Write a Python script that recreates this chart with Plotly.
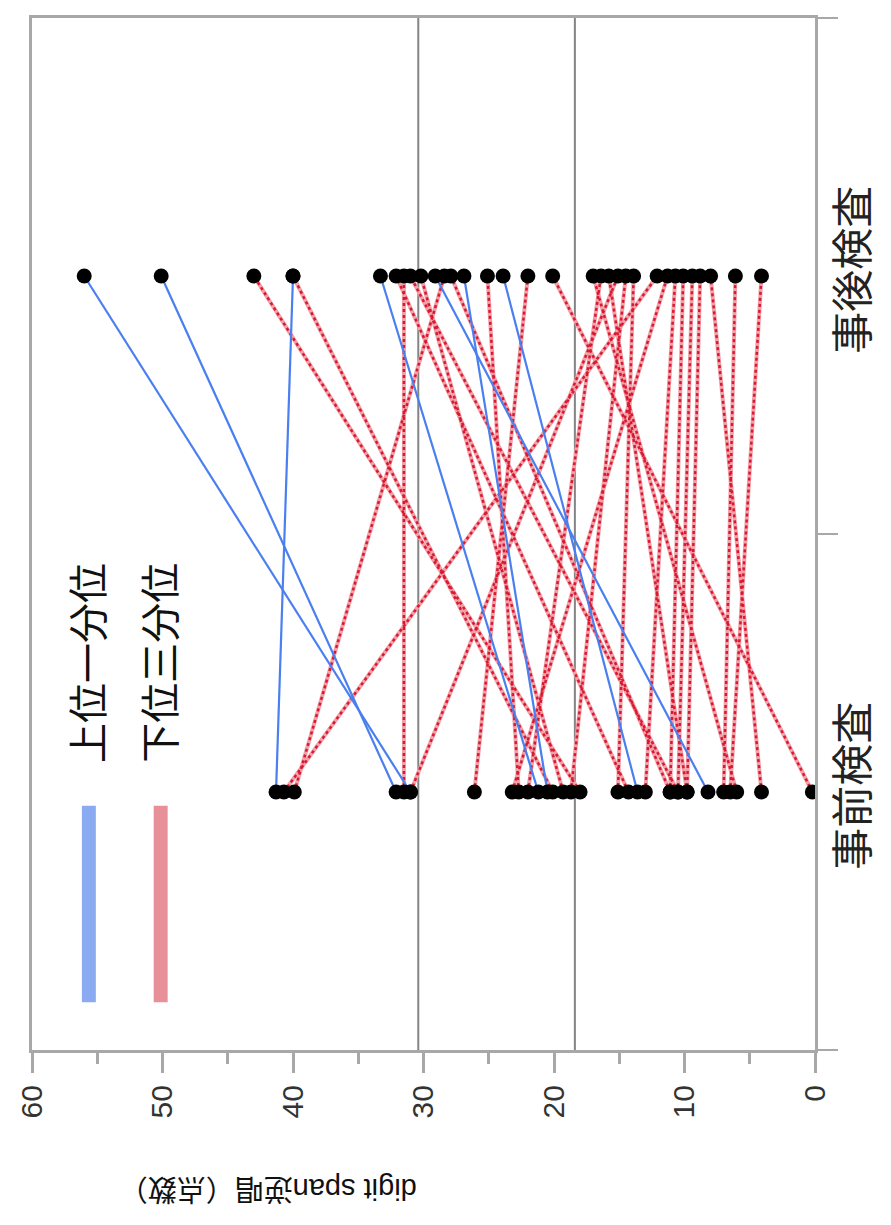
import plotly.graph_objects as go

categories = ["事前検査", "事後検査"]

# 上位一分位 (upper group): pre / post scores per subject
upper_pre = [31.0, 32.1, 41.3, 21.2, 20.5, 8.2, 13.6]
upper_post = [56.0, 50.1, 40.0, 33.3, 26.9, 29.1, 23.9]

# 下位三分位 (lower group): pre / post scores per subject
lower_pre = [40.7, 39.9, 31.5, 31.0, 18.0, 20.1, 0.2, 4.1, 6.5, 7.0, 26.1, 14.3, 10.5,
             19.3, 11.1, 22.7, 6.0, 22.0, 9.8, 18.7, 15.1, 23.2, 13.0, 11.1, 10.5, 9.8]
lower_post = [12.1, 28.4, 31.5, 15.1, 43.0, 40.0, 20.1, 8.0, 4.1, 6.1, 22.0, 32.1, 31.0,
              30.2, 27.9, 25.1, 17.0, 16.4, 15.8, 14.5, 13.9, 11.3, 10.7, 10.1, 9.4, 8.8]

ref_lines = [30.4, 18.4]
x_ticks = [0, 10, 20, 30, 40, 50, 60]

legend_names = ["上位一分位", "下位三分位"]
blue = "#4a7ff0"
red = "#d81a30"
pink = "#f2a0aa"
blue_sw = "#8aaaf2"
red_sw = "#e8909a"

FONT = "Liberation Sans, Arial, Noto Sans CJK JP, sans-serif"

# plot-area geometry (pixels)
L, T, PW, PH = 22, 7, 785, 1035


def seg(pre, post):
    xs, ys = [], []
    for a, b in zip(pre, post):
        xs += [a, b, None]
        ys += [categories[0], categories[1], None]
    return xs, ys


fig = go.Figure()

lx, ly = seg(lower_pre, lower_post)
fig.add_trace(go.Scatter(x=lx, y=ly, mode="lines", line=dict(color=pink, width=4),
                         hoverinfo="skip", showlegend=False))
fig.add_trace(go.Scatter(x=lx, y=ly, mode="lines", line=dict(color=red, width=2.5, dash="dot"),
                         name=legend_names[1], showlegend=False))
ux, uy = seg(upper_pre, upper_post)
fig.add_trace(go.Scatter(x=ux, y=uy, mode="lines", line=dict(color=blue, width=2.2),
                         name=legend_names[0], showlegend=False))

all_x = upper_pre + lower_pre + upper_post + lower_post
all_y = [categories[0]] * (len(upper_pre) + len(lower_pre)) + [categories[1]] * (len(upper_post) + len(lower_post))
fig.add_trace(go.Scatter(x=all_x, y=all_y, mode="markers",
                         marker=dict(color="black", size=15), showlegend=False))

for v in ref_lines:
    fig.add_vline(x=v, line=dict(color="#848484", width=2), layer="below")

fig.update_layout(
    width=891, height=1225,
    margin=dict(l=L, r=891 - L - PW, t=T, b=1225 - T - PH),
    paper_bgcolor="white", plot_bgcolor="white",
    font=dict(family=FONT, color="#222"),
    xaxis=dict(range=[60, 0], tickvals=x_ticks, tickangle=-90,
               tickfont=dict(size=30, color="#333"),
               ticks="outside", ticklen=20, tickwidth=3, tickcolor="#a8a8a8",
               minor=dict(dtick=5, ticks="outside", ticklen=11, tickwidth=3, tickcolor="#a8a8a8"),
               showgrid=False, zeroline=False,
               showline=True, linecolor="#a8a8a8", linewidth=3, mirror=True),
    yaxis=dict(type="category", categoryarray=categories, range=[-0.5, 1.5],
               side="right", tickangle=-90, tickson="boundaries",
               tickfont=dict(size=42, color="#222"),
               ticks="outside", ticklen=20, tickwidth=2, tickcolor="#a8a8a8",
               showgrid=False, zeroline=False,
               showline=True, linecolor="#a8a8a8", linewidth=3, mirror=True),
)

# legend (rotated, drawn manually); pixel positions in the reference frame (origin = plot area at 30,15)
for i, (name, col) in enumerate(zip(legend_names, [blue_sw, red_sw])):
    cx = [87, 159][i]
    fig.add_shape(type="rect", xref="paper", yref="paper",
                  x0=(cx - 7 - 30) / PW, x1=(cx + 7 - 30) / PW,
                  y0=(1050 - 1002) / PH, y1=(1050 - 805) / PH,
                  line=dict(width=0), fillcolor=col)
    fig.add_annotation(text=name, xref="paper", yref="paper",
                       x=(cx - 30) / PW, y=(1050 - 662) / PH, textangle=-90,
                       xanchor="center", yanchor="middle",
                       showarrow=False, font=dict(size=40, color="#111"))

fig.add_annotation(text="digit span逆唱（点数）", xref="paper", yref="paper",
                   x=(266 - 30) / PW, y=(1050 - 1190) / PH, textangle=180,
                   xanchor="center", yanchor="middle",
                   showarrow=False, font=dict(size=29, color="#111"))

fig.write_html("out.html")
